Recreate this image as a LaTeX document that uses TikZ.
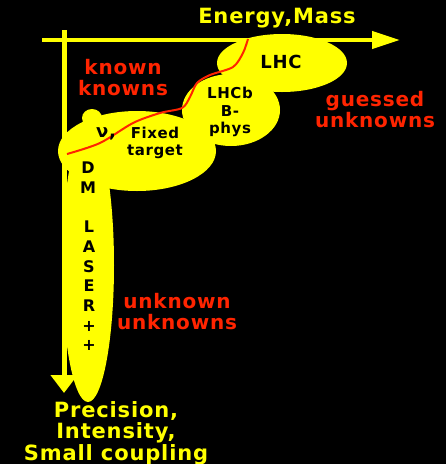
\documentclass[tikz,border=0pt]{standalone}
\usepackage{fontspec}
\setmainfont{DejaVu Sans}[LetterSpace=4]
\usetikzlibrary{arrows.meta}
\definecolor{blobyellow}{RGB}{255,255,0}
\definecolor{labelred}{RGB}{255,36,0}

\begin{document}
\begin{tikzpicture}[x=1pt, y=-1pt,
	blob/.style={fill=blobyellow},
	region/.style={text=labelred, font=\fontsize{20}{21}\selectfont\bfseries, align=center, inner sep=0},
	axislabel/.style={text=blobyellow, font=\fontsize{21}{21.5}\selectfont\bfseries, align=center, inner sep=0},
	inblob/.style={text=black, font=\fontsize{15}{17.5}\selectfont\bfseries, align=center, inner sep=0}]
	% Background and frame:
	\fill[black] (0,0) rectangle (446,464);
	\useasboundingbox (0,0) rectangle (446,464);
	% Yellow regions:
	\fill[blob] (282,63) ellipse[x radius=65, y radius=29];
	\fill[blob] (231,110) ellipse[x radius=49, y radius=36];
	\fill[blob] (137,151) ellipse[x radius=79, y radius=40];
	\fill[blob] (92,118) ellipse[x radius=10, y radius=9];
	\fill[blob] (88,265) ellipse[x radius=26, y radius=137];
	% Axes:
	\coordinate (xstart) at (42,40);
	\coordinate (xend) at (400,40);
	\coordinate (ystart) at (64,30);
	\coordinate (yend) at (64,393);
	\draw[blobyellow, line width=4pt, -{Triangle[length=28pt, width=17pt]}] (xstart) -- (xend);
	\draw[blobyellow, line width=5pt, -{Triangle[length=18pt, width=26pt]}] (ystart) -- (yend);
	% Frontier curve:
	\draw[labelred, line width=2pt] plot[smooth] coordinates {(67,154) (100,143) (133,123) (160,113) (182,108) (190,97) (197,83) (210,75) (233,67) (243,53) (248,39)};
	% Labels:
	\node[axislabel] (energy) at (277,18) {Energy,Mass};
	\node[axislabel, anchor=north] (precision) at (116,401) {Precision,\\Intensity,\\Small coupling};
	\node[region] (known) at (123,78) {known\\knowns};
	\node[region] (guessed) at (375,110) {guessed\\unknowns};
	\node[region] (unknown) at (177,312) {unknown\\unknowns};
	\node[inblob, font=\fontsize{18}{18}\selectfont\bfseries] (lhc) at (281,62) {LHC};
	\node[inblob] (lhcb) at (230,112) {LHCb\\B-\\phys};
	\node[inblob, font=\fontsize{18}{18}\selectfont\bfseries] (nu) at (106,134) {ν,};
	\node[inblob] (fixed) at (155,143) {Fixed\\target};
	\node[inblob, font=\fontsize{16}{19.7}\selectfont\bfseries] (dm) at (88,178) {D\\M};
	\node[inblob, font=\fontsize{16}{19.7}\selectfont\bfseries] (laser) at (89,286) {L\\A\\S\\E\\R\\+\\+};
\end{tikzpicture}
\end{document}
